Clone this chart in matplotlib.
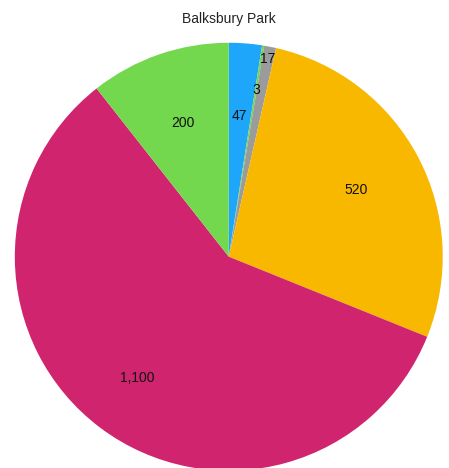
import matplotlib
matplotlib.use("Agg")
import matplotlib.pyplot as plt
import numpy as np

plt.rcParams["font.family"] = ["Liberation Sans", "DejaVu Sans"]

# data (clockwise from 12 o'clock)
values = [47, 3, 17, 520, 1100, 200]
labels = ["47", "3", "17", "520", "1,100", "200"]
colors = ["#1ea6fb", "#74d84f", "#9b9b9b", "#f9b800", "#d0246f", "#74d84f"]
label_r = [0.66, 0.79, 0.94, 0.67, 0.71, 0.66]

fig = plt.figure(figsize=(4.49, 4.68), dpi=100)
ax = fig.add_axes([0.033, -0.006, 0.953, 0.915])
wedges, _ = ax.pie(values, colors=colors, startangle=90, counterclock=False,
                   wedgeprops=dict(linewidth=0))

for w, lab, r in zip(wedges, labels, label_r):
    ang = np.deg2rad((w.theta1 + w.theta2) / 2)
    ax.text(r * np.cos(ang), r * np.sin(ang), lab, ha="center", va="center",
            fontsize=10, color="#111111")

ax.set_xlim(-1, 1)
ax.set_ylim(-1, 1)
ax.set_aspect("equal")
fig.text(0.51, 0.96, "Balksbury Park", ha="center", va="center", fontsize=10, color="#222222")

fig.savefig("out.png", dpi=100)
